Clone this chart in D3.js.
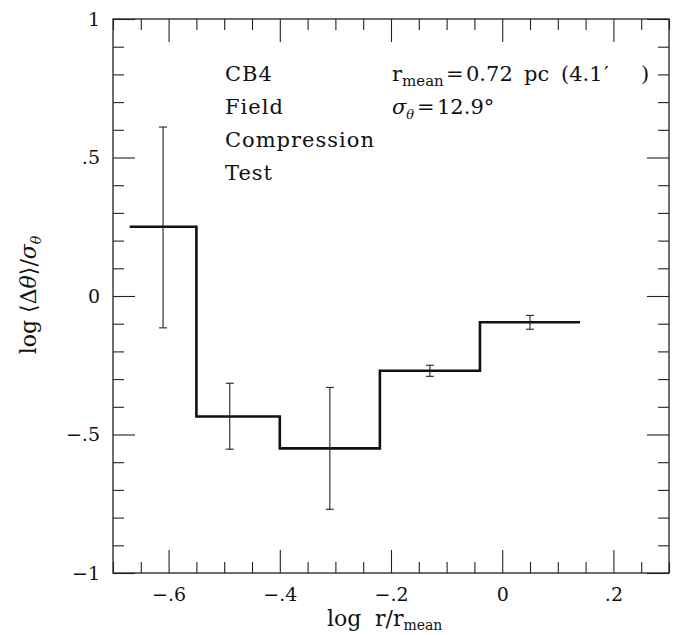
<!DOCTYPE html>
<html>
<head>
<meta charset="utf-8">
<script src="https://cdn.jsdelivr.net/npm/d3@7"></script>
<style>
  html, body { margin: 0; padding: 0; background: #fff; }
  svg { display: block; }
  text { font-family: "DejaVu Serif", serif; fill: #111; }
</style>
</head>
<body>
<script>
// ---- data ----
const binEdges = [-0.67, -0.55, -0.40, -0.22, -0.04, 0.14];
const binLevels = [0.25, -0.435, -0.55, -0.27, -0.095];
const errX = [-0.61, -0.49, -0.31, -0.13, 0.05];
const errHi = [0.61, -0.315, -0.33, -0.25, -0.07];
const errLo = [-0.115, -0.553, -0.77, -0.29, -0.12];
const xMajorTicks = [-0.6, -0.4, -0.2, 0, 0.2];
const yMajorTicks = [-1, -0.5, 0, 0.5, 1];
const labelsLeft = ["CB4", "Field", "Compression", "Test"];

const W = 674, H = 635;
const svg = d3.select("body").append("svg").attr("width", W).attr("height", H);

const x = d3.scaleLinear().domain([-0.7, 0.3]).range([113, 669]);
const y = d3.scaleLinear().domain([-1, 1]).range([573, 19]);

const fmt = d => d === 0 ? "0" : (d < 0 ? "\u2212" : "") + String(Math.abs(d)).replace(/^0(?=\.)/, "");
const xMinor = d3.range(-0.7, 0.3001, 0.05).map(v => +v.toFixed(2)).filter(v => !xMajorTicks.some(m => Math.abs(m - v) < 1e-6));
const yMinor = d3.range(-1, 1.0001, 0.1).map(v => +v.toFixed(2)).filter(v => !yMajorTicks.some(m => Math.abs(m - v) < 1e-6));

const FS = 21, TFS = 19;
function styleAxis(g) {
  g.select(".domain").remove();
  g.selectAll(".tick line").attr("stroke", "#222").attr("stroke-width", 1.1);
  g.selectAll("text").style("font-size", TFS + "px").style("font-family", '"DejaVu Serif", serif').attr("fill", "#111");
}

// bottom
svg.append("g").attr("transform", `translate(0,${y(-1)})`)
  .call(d3.axisBottom(x).tickValues(xMajorTicks).tickSize(-23).tickPadding(15).tickFormat(fmt)).call(styleAxis);
svg.append("g").attr("transform", `translate(0,${y(-1)})`)
  .call(d3.axisBottom(x).tickValues(xMinor).tickSize(-11).tickFormat("")).call(styleAxis);
// top
svg.append("g").attr("transform", `translate(0,${y(1)})`)
  .call(d3.axisTop(x).tickValues(xMajorTicks).tickSize(-23).tickFormat("")).call(styleAxis);
svg.append("g").attr("transform", `translate(0,${y(1)})`)
  .call(d3.axisTop(x).tickValues(xMinor).tickSize(-11).tickFormat("")).call(styleAxis);
// left
svg.append("g").attr("transform", `translate(${x(-0.7)},0)`)
  .call(d3.axisLeft(y).tickValues(yMajorTicks).tickSize(-22).tickPadding(13).tickFormat(fmt)).call(styleAxis);
svg.append("g").attr("transform", `translate(${x(-0.7)},0)`)
  .call(d3.axisLeft(y).tickValues(yMinor).tickSize(-11).tickFormat("")).call(styleAxis);
// right
svg.append("g").attr("transform", `translate(${x(0.3)},0)`)
  .call(d3.axisRight(y).tickValues(yMajorTicks).tickSize(-22).tickFormat("")).call(styleAxis);
svg.append("g").attr("transform", `translate(${x(0.3)},0)`)
  .call(d3.axisRight(y).tickValues(yMinor).tickSize(-11).tickFormat("")).call(styleAxis);

// frame
svg.append("rect")
  .attr("x", x(-0.7)).attr("y", y(1))
  .attr("width", x(0.3) - x(-0.7)).attr("height", y(-1) - y(1))
  .attr("fill", "none").attr("stroke", "#222").attr("stroke-width", 1.3);

// step histogram
const stepPts = binLevels.map((v, i) => [binEdges[i], v]);
stepPts.push([binEdges[binEdges.length - 1], binLevels[binLevels.length - 1]]);
svg.append("path")
  .attr("d", d3.line().x(d => x(d[0])).y(d => y(d[1])).curve(d3.curveStepAfter)(stepPts))
  .attr("fill", "none").attr("stroke", "#111").attr("stroke-width", 2.6).attr("stroke-linejoin", "miter");

// error bars
const eb = svg.append("g").attr("stroke", "#222").attr("stroke-width", 1.1);
errX.forEach((xv, i) => {
  eb.append("line").attr("x1", x(xv)).attr("x2", x(xv)).attr("y1", y(errHi[i])).attr("y2", y(errLo[i]));
  [errHi[i], errLo[i]].forEach(v => {
    eb.append("line").attr("x1", x(xv) - 4).attr("x2", x(xv) + 4).attr("y1", y(v)).attr("y2", y(v));
  });
});

// annotations
const lg = svg.append("g").style("font-size", FS + "px").style("letter-spacing", "1px");
labelsLeft.forEach((t, i) => {
  lg.append("text").attr("x", 225).attr("y", 81 + i * 33).text(t);
});

const t1 = svg.append("text").attr("y", 81).style("font-size", FS + "px");
t1.append("tspan").attr("x", 392).text("r");
t1.append("tspan").attr("dy", 5).style("font-size", "15px").text("mean");
t1.append("tspan").attr("x", 446).attr("dy", -5).text("=");
t1.append("tspan").attr("x", 466).text("0.72");
t1.append("tspan").attr("x", 524).text("pc");
t1.append("tspan").attr("x", 561).text("(4.1");
t1.append("tspan").attr("x", 604).text("\u2032");
t1.append("tspan").attr("x", 641).text(")");

const t2 = svg.append("text").attr("y", 114).style("font-size", FS + "px");
t2.append("tspan").attr("x", 392).style("font-style", "italic").text("\u03C3");
t2.append("tspan").attr("dy", 5).style("font-size", "13px").style("font-style", "italic").text("\u03B8");
t2.append("tspan").attr("x", 417).attr("dy", -5).text("=");
t2.append("tspan").attr("x", 437).text("12.9\u00B0");

// axis titles
const xt = svg.append("text").attr("y", 626).style("font-size", "22px");
xt.append("tspan").attr("x", 327).text("log");
xt.append("tspan").attr("x", 375).text("r/r");
xt.append("tspan").attr("dy", 4).style("font-size", "14px").text("mean");

const yt = svg.append("text").attr("transform", "translate(36,295) rotate(-90)").attr("text-anchor", "middle").style("font-size", "22px");
yt.append("tspan").text("log \u27E8\u0394");
yt.append("tspan").style("font-style", "italic").text("\u03B8");
yt.append("tspan").text("\u27E9/");
yt.append("tspan").style("font-style", "italic").text("\u03C3");
yt.append("tspan").attr("dy", 5).style("font-size", "14px").style("font-style", "italic").text("\u03B8");
</script>
</body>
</html>
